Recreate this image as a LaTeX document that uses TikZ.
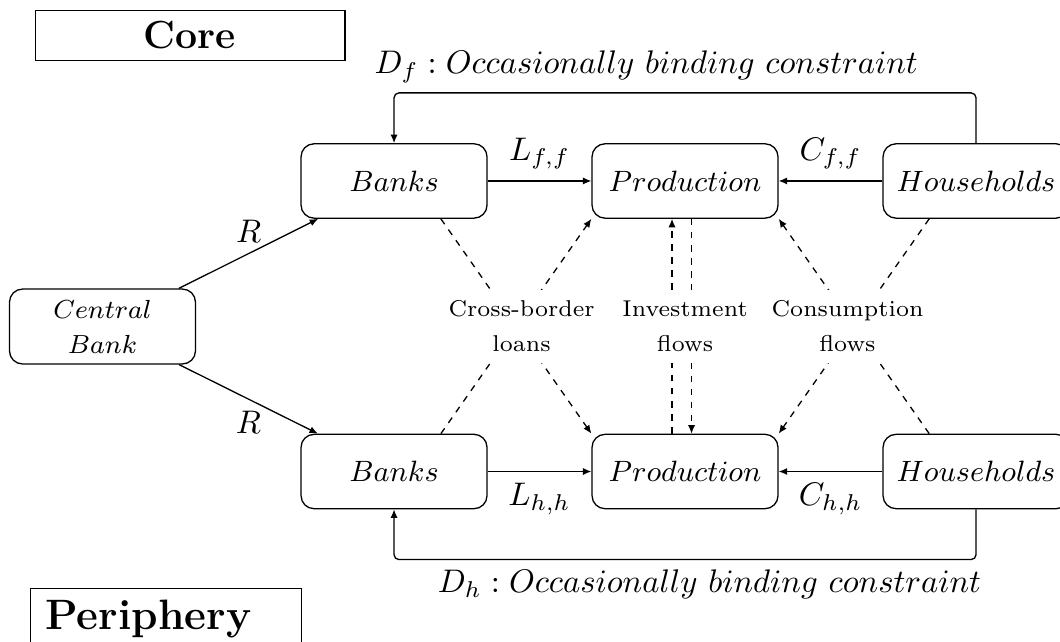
\documentclass[tikz,border=0pt]{standalone}
\usepackage{amsmath}
\usepackage{amssymb}
\usepackage{tikz}
\usetikzlibrary{calc, arrows, positioning, shapes, arrows.meta}

\begin{document}
\begin{tikzpicture}[>={Latex[length=2.6pt,width=2.2pt]},
	caja/.style={draw, rounded corners, minimum width=2cm, minimum height=0.8cm, font=\small},
	flujo/.style={fill=white, font=\scriptsize, align=center},
	punteada/.style={dash pattern=on 2pt off 2pt},
	region/.style={draw, font=\large\bfseries}]
	\useasboundingbox (0,0) rectangle (11.398,-6.893);
	
	%Regiones
	\node[region, minimum width=3.33cm, inner ysep=3.4pt] (core) at (2.043,-0.382) {Core};
	\node[region, font=\fontsize{13}{15}\selectfont\bfseries, anchor=north west, text width=2.594cm, inner xsep=0.16cm, minimum height=0.62cm, align=left] (peri) at (0.323,-6.323) {Periphery};
	
	%Agentes
	\node[caja, font=\footnotesize, align=center] (cb) at (1.102,-3.511) {$Central$\\[1.2pt]$Bank$};
	\node[caja] (bf) at (4.237,-1.946) {$Banks$};
	\node[caja] (pf) at (7.366,-1.946) {$Production$};
	\node[caja] (hf) at (10.495,-1.946) {$Households$};
	\node[caja] (bh) at (4.237,-5.070) {$Banks$};
	\node[caja] (ph) at (7.366,-5.070) {$Production$};
	\node[caja] (hh) at (10.495,-5.070) {$Households$};
	
	%Flujos directos
	\draw[->] (cb) -- node[above] {$R$} (bf);
	\draw[->] (cb) -- node[below] {$R$} (bh);
	\draw[->] (bf) -- node[above] {$L_{f,f}$} (pf);
	\draw[->] (hf) -- node[above] {$C_{f,f}$} (pf);
	\draw[->] (bh) -- node[below] {$L_{h,h}$} (ph);
	\draw[->] (hh) -- node[below] {$C_{h,h}$} (ph);
	
	%Restricciones
	\draw[->, rounded corners=1.5pt] (hf.north) -- ++(0,0.54) -| (bf.north);
	\draw[->, rounded corners=1.5pt] (hh.south) -- ++(0,-0.54) -| (bh.south);
	\node[above] (dfl) at (6.95,-1.011) {$D_f : Occasionally\ binding\ constraint$};
	\node[below] (dhl) at (7.63,-6.000) {$D_h : Occasionally\ binding\ constraint$};
	
	%Flujos entre regiones
	\draw[punteada, ->] ($(bf.south)!0.5!(bf.south east)$) -- (ph.north west);
	\draw[punteada, ->] ($(bh.north)!0.5!(bh.north east)$) -- (pf.south west);
	\draw[punteada, ->] ($(ph.north)+(-0.14,0)$) -- ($(pf.south)+(-0.14,0)$);
	\draw[punteada, ->] ($(pf.south)+(0.07,0)$) -- ($(ph.north)+(0.07,0)$);
	\draw[punteada, ->] ($(hf.south)!0.5!(hf.south west)$) -- (ph.north east);
	\draw[punteada, ->] ($(hh.north)!0.5!(hh.north west)$) -- (pf.south east);
	\node[flujo] (cross) at (5.608,-3.511) {Cross-border\\[2.7pt]loans};
	\node[flujo] (inv) at (7.366,-3.511) {Investment\\[2.7pt]flows};
	\node[flujo] (cons) at (9.113,-3.511) {Consumption\\[2.7pt]flows};
\end{tikzpicture}
\end{document}
